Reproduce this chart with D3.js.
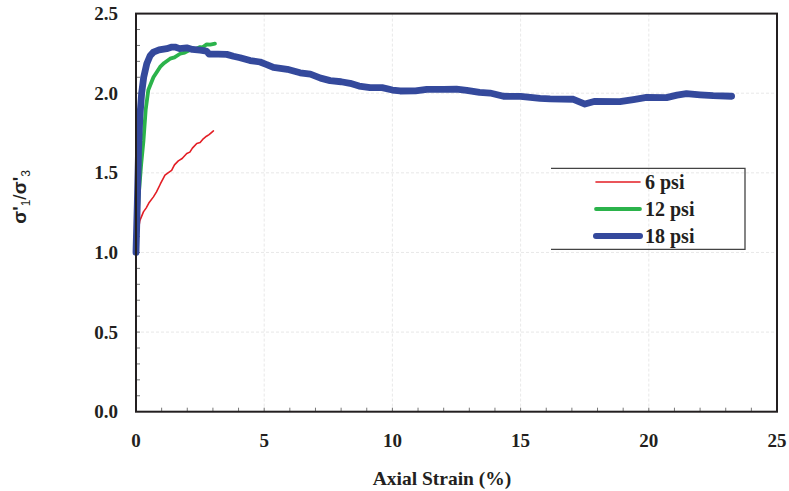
<!DOCTYPE html>
<html>
<head>
<meta charset="utf-8">
<script src="https://cdnjs.cloudflare.com/ajax/libs/d3/7.8.5/d3.min.js"></script>
<style>
  body { margin: 0; background: #fff; }
  .tick-label { font-family: "Liberation Serif", "Times New Roman", serif; font-weight: bold; font-size: 19px; fill: #231f20; }
</style>
</head>
<body>
<div id="chart"></div>
<script>
// data
var series = ["6 psi", "12 psi", "18 psi"];
var colors = ["#e31e25", "#2bb34b", "#34499c"];
var widths = [1.6, 3.8, 6.8];

var red6 = [[0,1.0],[0.05,1.1],[0.15,1.2],[0.29,1.255],[0.4,1.28],[0.5,1.31],[0.68,1.349],[0.8,1.38],[0.95,1.43],
  [1.13,1.485],[1.25,1.5],[1.39,1.516],[1.5,1.55],[1.65,1.575],[1.8,1.59],[1.98,1.621],[2.1,1.63],[2.2,1.655],
  [2.37,1.684],[2.5,1.69],[2.6,1.71],[2.75,1.73],[2.85,1.74],[3.02,1.763]];

var green12 = [[0,1.0],[0.1,1.35],[0.2,1.55],[0.29,1.70],[0.38,1.9],[0.48,2.02],[0.68,2.10],[0.94,2.165],[1.1,2.19],
  [1.33,2.217],[1.5,2.225],[1.72,2.248],[1.9,2.255],[2.11,2.273],[2.3,2.275],[2.5,2.29],[2.6,2.288],[2.76,2.307],
  [2.9,2.305],[3.08,2.311]];

var blue18 = [[0,1.0],[0.05,1.3],[0.1,1.65],[0.15,1.85],[0.22,2.0],[0.3,2.1],[0.42,2.185],[0.55,2.235],[0.68,2.258],
  [0.9,2.272],[1.2,2.28],[1.4,2.29],[1.52,2.29],[1.7,2.28],[1.98,2.285],[2.2,2.275],[2.5,2.27],[2.75,2.265],
  [2.85,2.245],[3.2,2.245],[3.54,2.244],[3.8,2.232],[4.06,2.223],[4.45,2.205],[4.84,2.196],[5.1,2.18],[5.36,2.162],
  [5.9,2.15],[6.4,2.128],[6.8,2.12],[7.2,2.095],[7.57,2.079],[8.0,2.072],[8.35,2.062],[8.7,2.045],[9.13,2.035],
  [9.6,2.035],[10.0,2.02],[10.3,2.014],[10.9,2.015],[11.34,2.024],[12.0,2.024],[12.5,2.025],[12.9,2.018],
  [13.4,2.005],[13.81,2.001],[14.33,1.981],[15.0,1.98],[15.76,1.968],[16.15,1.964],[17.06,1.962],[17.51,1.932],
  [17.9,1.949],[18.87,1.947],[19.4,1.96],[19.91,1.974],[20.69,1.972],[21.1,1.988],[21.47,1.997],[22.0,1.99],
  [22.51,1.985],[23.23,1.981]];

var xTicks = [0, 5, 10, 15, 20, 25];
var yTicks = [0.0, 0.5, 1.0, 1.5, 2.0, 2.5];

var margin = {top: 13.6, right: 12, bottom: 79.3, left: 136};
var W = 789, H = 491;
var width = W - margin.left - margin.right,
    height = H - margin.top - margin.bottom;

var svg = d3.select("#chart").append("svg")
    .attr("width", W)
    .attr("height", H);

var g = svg.append("g")
    .attr("transform", "translate(" + margin.left + "," + margin.top + ")");

var x = d3.scaleLinear().domain([0, 25]).range([0, width]);
var y = d3.scaleLinear().domain([0, 2.5]).range([height, 0]);

// grid
g.append("g").selectAll("line").data(xTicks.slice(1, -1)).enter().append("line")
    .attr("x1", d => x(d)).attr("x2", d => x(d))
    .attr("y1", 0).attr("y2", height)
    .attr("stroke", "#e2e2e2").attr("stroke-width", 0.8).attr("stroke-dasharray", "3,2");
g.append("g").selectAll("line").data(yTicks.slice(1, -1)).enter().append("line")
    .attr("y1", d => y(d)).attr("y2", d => y(d))
    .attr("x1", 0).attr("x2", width)
    .attr("stroke", "#e2e2e2").attr("stroke-width", 0.8).attr("stroke-dasharray", "3,2");

// inner ticks
g.append("g").selectAll("line").data(d3.range(1, 25)).enter().append("line")
    .attr("x1", d => x(d)).attr("x2", d => x(d))
    .attr("y1", height).attr("y2", height - 4)
    .attr("stroke", "#555").attr("stroke-width", 0.8);
g.append("g").selectAll("line").data(d3.range(1, 25).map(d => d / 10)).enter().append("line")
    .attr("y1", d => y(d)).attr("y2", d => y(d))
    .attr("x1", 0).attr("x2", 4)
    .attr("stroke", "#555").attr("stroke-width", 0.8);

// tick labels
g.append("g").selectAll("text").data(xTicks).enter().append("text")
    .attr("class", "tick-label")
    .attr("x", d => x(d))
    .attr("y", height + 35)
    .attr("text-anchor", "middle")
    .text(d => d);
g.append("g").selectAll("text").data(yTicks).enter().append("text")
    .attr("class", "tick-label")
    .attr("x", -18)
    .attr("y", d => y(d) + 6.5)
    .attr("text-anchor", "end")
    .text(d => d.toFixed(1));

// lines
var line = d3.line().x(d => x(d[0])).y(d => y(d[1]));
var data = [red6, green12, blue18];
data.forEach(function(s, i) {
  g.append("path")
    .datum(s)
    .attr("d", line)
    .attr("fill", "none")
    .attr("stroke", colors[i])
    .attr("stroke-width", widths[i])
    .attr("stroke-linejoin", "round")
    .attr("stroke-linecap", "round");
});

// frame
g.append("rect")
    .attr("width", width).attr("height", height)
    .attr("fill", "none").attr("stroke", "#231f20").attr("stroke-width", 2);

// legend (no left edge, like the reference)
var lg = svg.append("g");
var lx0 = 551, lx1 = 745, ly0 = 168.3, ly1 = 249.3;
lg.append("path")
    .attr("d", "M" + lx0 + "," + ly0 + "H" + lx1 + "V" + ly1 + "H" + lx0)
    .attr("fill", "none").attr("stroke", "#444").attr("stroke-width", 1.3);
series.forEach(function(name, i) {
  var ly = 182 + i * 27;
  lg.append("line")
    .attr("x1", 596).attr("x2", 640)
    .attr("y1", ly).attr("y2", ly)
    .attr("stroke", colors[i]).attr("stroke-width", Math.min(widths[i], 6))
    .attr("stroke-linecap", "round");
  lg.append("text")
    .attr("class", "tick-label")
    .attr("x", 645).attr("y", ly + 6.5)
    .style("font-size", "20px")
    .text(name);
});

// axis titles
svg.append("text")
    .attr("class", "tick-label")
    .attr("x", 442).attr("y", 485)
    .attr("text-anchor", "middle")
    .style("font-size", "19.5px")
    .text("Axial Strain (%)");

var yt = svg.append("text")
    .attr("transform", "translate(26,197) rotate(-90)")
    .attr("text-anchor", "middle")
    .style("font-family", "'Liberation Sans', Arial, sans-serif")
    .style("font-weight", "bold")
    .style("font-size", "19px")
    .attr("fill", "#231f20");
yt.append("tspan").text("σ'");
yt.append("tspan").attr("dy", 4).style("font-size", "12px").style("font-weight", "normal").text("1");
yt.append("tspan").attr("dy", -4).style("font-weight", "normal").text("/");
yt.append("tspan").text("σ'");
yt.append("tspan").attr("dy", 4).style("font-size", "12px").style("font-weight", "normal").text("3");
</script>
</body>
</html>
